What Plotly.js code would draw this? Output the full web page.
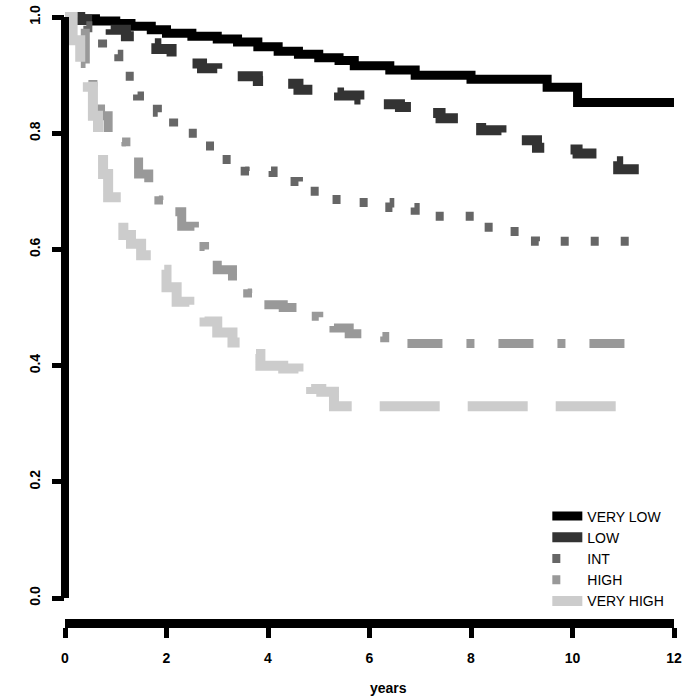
<!DOCTYPE html>
<html>
<head>
<meta charset="utf-8">
<script src="https://cdn.plot.ly/plotly-3.0.1.min.js"></script>
<style>
  html, body { margin: 0; padding: 0; background: #fff; }
  #grafico { width: 687px; height: 699px; }
</style>
</head>
<body>
<div id="grafico"></div>
<script>
// Curvas de sobrevida
const grupos = ["VERY LOW", "LOW", "INT", "HIGH", "VERY HIGH"];

const tVeryLow = [0, 0.3, 0.6, 1.0, 1.3, 1.7, 2.0, 2.5, 3.0, 3.4, 3.8, 4.2, 4.6, 5.0, 5.4, 5.7, 6.4, 6.9, 8.0, 9.5, 10.1, 12];
const sVeryLow = [1.0, 0.997, 0.993, 0.989, 0.984, 0.978, 0.972, 0.967, 0.962, 0.957, 0.949, 0.941, 0.936, 0.930, 0.925, 0.916, 0.909, 0.900, 0.893, 0.879, 0.853, 0.853];

const tLow = [0, 0.3, 0.6, 0.9, 1.2, 1.5, 1.8, 2.1, 2.4, 2.7, 3.0, 3.4, 3.8, 4.2, 4.6, 5.0, 5.4, 5.8, 6.2, 6.6, 7.0, 7.4, 7.8, 8.2, 8.6, 9.0, 9.3, 9.7, 10.1, 10.5, 10.9, 11.8];
const sLow = [1.0, 0.995, 0.99, 0.978, 0.967, 0.955, 0.945, 0.93, 0.92, 0.912, 0.905, 0.898, 0.89, 0.885, 0.875, 0.87, 0.865, 0.858, 0.85, 0.845, 0.835, 0.826, 0.82, 0.805, 0.797, 0.788, 0.775, 0.772, 0.765, 0.752, 0.738, 0.738];

const tInt = [0, 0.2, 0.45, 0.74, 1.06, 1.43, 1.82, 2.14, 2.6, 3.1, 3.55, 4.1, 4.6, 5.1, 5.77, 6.4, 6.9, 8.1, 8.75, 9.27, 11.4];
const sInt = [1.0, 0.985, 0.965, 0.936, 0.898, 0.864, 0.836, 0.80, 0.778, 0.755, 0.735, 0.717, 0.70, 0.686, 0.681, 0.672, 0.657, 0.638, 0.631, 0.614, 0.614];

const tHigh = [0, 0.15, 0.4, 0.55, 0.7, 0.85, 1.0, 1.2, 1.45, 1.65, 1.85, 2.05, 2.3, 2.55, 2.75, 3.0, 3.3, 3.6, 3.9, 4.3, 4.7, 5.0, 5.3, 5.6, 5.9, 6.3, 11.45];
const sHigh = [1.0, 0.98, 0.92, 0.88, 0.83, 0.80, 0.785, 0.76, 0.73, 0.71, 0.685, 0.665, 0.64, 0.605, 0.585, 0.565, 0.54, 0.525, 0.505, 0.5, 0.485, 0.47, 0.465, 0.455, 0.45, 0.438, 0.438];

const tVeryHigh = [0, 0.15, 0.3, 0.45, 0.55, 0.65, 0.75, 0.85, 1.0, 1.15, 1.3, 1.5, 1.75, 2.0, 2.2, 2.45, 2.75, 3.0, 3.3, 3.55, 3.85, 4.3, 4.6, 4.85, 5.05, 5.3, 11.2];
const sVeryHigh = [1.0, 0.96, 0.92, 0.88, 0.83, 0.785, 0.73, 0.69, 0.648, 0.625, 0.61, 0.59, 0.565, 0.535, 0.51, 0.49, 0.476, 0.457, 0.44, 0.42, 0.40, 0.395, 0.375, 0.36, 0.355, 0.33, 0.33];

const xTicks = [0, 2, 4, 6, 8, 10, 12];
const yTicks = [0, 0.2, 0.4, 0.6, 0.8, 1.0];
const yTickText = ["0.0", "0.2", "0.4", "0.6", "0.8", "1.0"];

// estilo de cada curva
const estilos = [
    {color: '#000000', width: 9, dash: 'solid'},
    {color: '#333333', width: 10, dash: '30px,28px'},
    {color: '#666666', width: 9, dash: '8px,22px'},
    {color: '#999999', width: 9, dash: '8px,24px,35px,24px'},
    {color: '#cccccc', width: 10, dash: '60px,28px'}
];

const tempos = [tVeryLow, tLow, tInt, tHigh, tVeryHigh];
const sobrevida = [sVeryLow, sLow, sInt, sHigh, sVeryHigh];

var data = grupos.map((g, i) => ({
    x: tempos[i],
    y: sobrevida[i],
    mode: 'lines',
    type: 'scatter',
    line: {color: estilos[i].color, width: estilos[i].width, dash: estilos[i].dash, shape: 'hv'},
    name: g
}));

const yMin = -0.036;
const yMax = 1.0207;
const yFrac = v => (v - yMin) / (yMax - yMin);

const fonteEixo = {family: 'Liberation Sans, Arial, sans-serif', size: 14, color: '#000', weight: 'bold'};

var layout = {
    width: 687,
    height: 699,
    margin: {l: 65, r: 13, t: 5, b: 80},
    paper_bgcolor: '#ffffff',
    plot_bgcolor: '#ffffff',
    font: {family: 'Liberation Sans, Arial, sans-serif', size: 14, color: '#000'},
    showlegend: true,
    legend: {
        x: 0.792, y: 0.193, xanchor: 'left', yanchor: 'top',
        bgcolor: 'rgba(0,0,0,0)',
        font: {size: 14, color: '#000'},
        tracegroupgap: 0
    },
    xaxis: {
        range: [0, 12],
        tickvals: xTicks,
        tickfont: fonteEixo,
        ticks: 'outside', ticklen: 10, tickwidth: 5, tickcolor: '#000',
        showline: true, linewidth: 9, linecolor: '#000',
        showgrid: false, zeroline: false,
        ticklabelstandoff: 8,
        fixedrange: true
    },
    yaxis: {
        range: [yMin, yMax],
        tickvals: yTicks,
        ticktext: yTickText,
        tickfont: fonteEixo,
        tickangle: -90,
        ticks: 'outside', ticklen: 12, tickwidth: 5, tickcolor: '#000',
        showline: false,
        showgrid: false, zeroline: false,
        ticklabelstandoff: 6,
        fixedrange: true
    },
    shapes: [
        // eixo y no estilo do R: so de 0 a 1
        {type: 'line', xref: 'x domain', yref: 'y domain', x0: 0, x1: 0, y0: yFrac(0), y1: yFrac(1),
         line: {color: '#000', width: 8}, layer: 'above'}
    ],
    annotations: [
        {text: '<b>years</b>', xref: 'paper', yref: 'paper', x: 0.532, y: -0.112,
         xanchor: 'center', yanchor: 'middle', showarrow: false, font: {size: 14, color: '#000'}}
    ]
};

Plotly.newPlot('grafico', data, layout, {displayModeBar: false, staticPlot: true});
</script>
</body>
</html>
